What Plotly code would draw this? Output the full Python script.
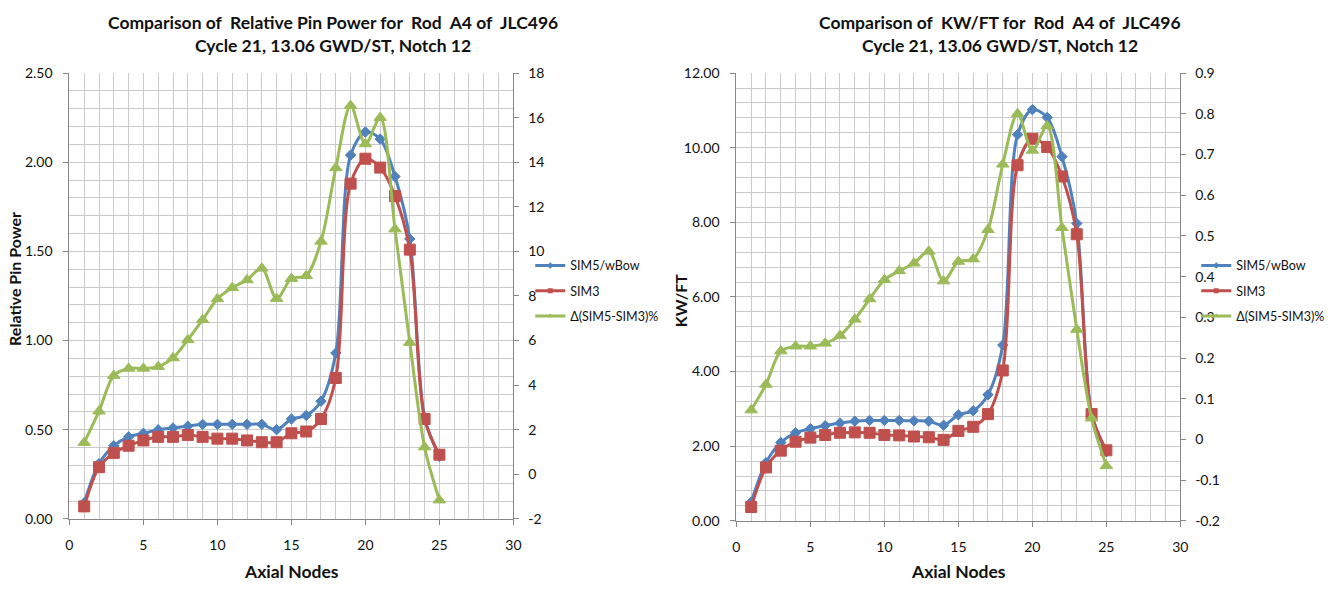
import plotly.graph_objects as go

W, H = 1341, 590

# ---------------- data ----------------
nodes = list(range(1, 26))

# Left chart: Relative Pin Power
sim5_rpp = [0.09, 0.31, 0.41, 0.46, 0.48, 0.50, 0.51, 0.52, 0.53, 0.53, 0.53, 0.53, 0.53,
            0.50, 0.56, 0.58, 0.66, 0.93, 2.04, 2.17, 2.13, 1.92, 1.57, 0.57, 0.35]
sim3_rpp = [0.07, 0.29, 0.37, 0.41, 0.44, 0.46, 0.46, 0.47, 0.46, 0.45, 0.45, 0.44, 0.43,
            0.43, 0.48, 0.49, 0.56, 0.79, 1.88, 2.02, 1.97, 1.81, 1.51, 0.56, 0.36]
delta_rpp = [1.42, 2.83, 4.43, 4.75, 4.75, 4.83, 5.22, 6.03, 6.93, 7.87, 8.37, 8.72, 9.24,
             7.88, 8.78, 8.91, 10.45, 13.75, 16.54, 14.82, 16.00, 11.00, 5.91, 1.22, -1.16]

# Right chart: KW/FT
sim5_kw = [0.50, 1.56, 2.10, 2.36, 2.47, 2.55, 2.62, 2.67, 2.69, 2.69, 2.69, 2.68, 2.67,
           2.56, 2.84, 2.95, 3.38, 4.71, 10.35, 11.02, 10.81, 9.76, 7.97, 2.88, 1.85]
sim3_kw = [0.37, 1.43, 1.88, 2.12, 2.23, 2.30, 2.36, 2.37, 2.36, 2.30, 2.29, 2.26, 2.24,
           2.17, 2.41, 2.52, 2.86, 4.03, 9.53, 10.24, 10.02, 9.23, 7.68, 2.86, 1.89]
delta_kw = [0.072, 0.135, 0.217, 0.229, 0.229, 0.236, 0.255, 0.295, 0.345, 0.392, 0.414,
            0.433, 0.462, 0.389, 0.437, 0.443, 0.515, 0.676, 0.800, 0.710, 0.770, 0.520,
            0.270, 0.052, -0.065]

series_names = ["SIM5/wBow", "SIM3", "\u0394(SIM5-SIM3)%"]

x_ticks = [0, 5, 10, 15, 20, 25, 30]
rpp_ticks = [0.0, 0.5, 1.0, 1.5, 2.0, 2.5]
rpp_ticktext = ["0.00", "0.50", "1.00", "1.50", "2.00", "2.50"]
drpp_ticks = [-2, 0, 2, 4, 6, 8, 10, 12, 14, 16, 18]
drpp_ticktext = ["-2", "0", "2", "4", "6", "8", "10", "12", "14", "16", "18"]
kw_ticks = [0, 2, 4, 6, 8, 10, 12]
kw_ticktext = ["0.00", "2.00", "4.00", "6.00", "8.00", "10.00", "12.00"]
dkw_ticks = [-0.2, -0.1, 0, 0.1, 0.2, 0.3, 0.4, 0.5, 0.6, 0.7, 0.8, 0.9]
dkw_ticktext = ["-0.2", "-0.1", "0", "0.1", "0.2", "0.3", "0.4", "0.5", "0.6", "0.7", "0.8", "0.9"]

title_l1 = "Comparison of\u00a0 Relative Pin Power for\u00a0 Rod\u00a0 A4 of\u00a0 JLC496"
title_r1 = "Comparison of\u00a0 KW/FT for\u00a0 Rod\u00a0 A4 of\u00a0 JLC496"
title_2 = "Cycle 21, 13.06 GWD/ST, Notch 12"

# ---------------- style ----------------
BLUE, RED, GREEN = "#4F81BD", "#C0504D", "#9BBB59"
GRID = "#c9c9c9"
AXIS = "#868686"
FONT = "Lato"
TXT = "#111111"

def px(v):
    return v / W

def py(v):
    return 1 - v / H

fig = go.Figure()

styles = [
    dict(color=BLUE, symbol="diamond", size=8),
    dict(color=RED, symbol="square", size=11),
    dict(color=GREEN, symbol="triangle-up", size=11),
]

def add_chart(xa, ya_main, ya_sec, ys, legend):
    for i, (yv, st) in enumerate(zip(ys, styles)):
        fig.add_trace(go.Scatter(
            x=nodes, y=yv, mode="lines+markers",
            xaxis=xa, yaxis=(ya_sec if i == 2 else ya_main),
            line=dict(color=st["color"], width=3, shape="spline", smoothing=0.9),
            marker=dict(color=st["color"], symbol=st["symbol"], size=st["size"],
                        line=dict(color=st["color"], width=1)),
            name=series_names[i], showlegend=False, hoverinfo="x+y"))
    # legend entries (small markers like the reference)
    for i, st in enumerate(styles):
        fig.add_trace(go.Scatter(
            x=[None], y=[None], mode="lines+markers",
            xaxis=xa, yaxis=(ya_sec if i == 2 else ya_main),
            line=dict(color=st["color"], width=3),
            marker=dict(color=st["color"], symbol=st["symbol"], size=5),
            name=series_names[i], legend=legend, legendgroup=legend + str(i),
            showlegend=True))

add_chart("x", "y", "y2", [sim5_rpp, sim3_rpp, delta_rpp], "legend")
add_chart("x2", "y3", "y4", [sim5_kw, sim3_kw, delta_kw], "legend2")

tickfont = dict(family=FONT, size=14, color=TXT)

def xaxis(domain, anchor):
    return dict(domain=domain, anchor=anchor, range=[0, 30], tickvals=x_ticks,
                showgrid=True, gridcolor=GRID, gridwidth=1,
                minor=dict(dtick=1, showgrid=True, gridcolor=GRID, gridwidth=1, ticks=""),
                showline=True, linecolor=AXIS, linewidth=1, ticks="outside",
                ticklen=5, tickcolor=AXIS, zeroline=False, tickfont=tickfont,
                ticklabelstandoff=8, fixedrange=True)

def yaxis_main(domain, anchor, rng, tv, tt, minor):
    return dict(domain=domain, anchor=anchor, range=rng, tickvals=tv, ticktext=tt,
                showgrid=True, gridcolor=GRID, gridwidth=1,
                minor=dict(dtick=minor, tick0=0, showgrid=True, gridcolor=GRID, gridwidth=1, ticks=""),
                showline=True, linecolor=AXIS, linewidth=1, ticks="outside",
                ticklen=5, tickcolor=AXIS, zeroline=False, tickfont=tickfont,
                ticklabelstandoff=8, fixedrange=True)

def yaxis_sec(overlay, anchor, rng, tv, tt):
    return dict(overlaying=overlay, anchor=anchor, side="right", range=rng,
                tickvals=tv, ticktext=tt, showgrid=False, showline=True,
                linecolor=AXIS, linewidth=1, ticks="outside", ticklen=5,
                tickcolor=AXIS, zeroline=False, tickfont=tickfont,
                ticklabelstandoff=6, fixedrange=True)

legend_font = dict(family=FONT, size=12.5, color=TXT)

fig.update_layout(
    width=W, height=H, margin=dict(l=0, r=0, t=0, b=0),
    paper_bgcolor="white", plot_bgcolor="white",
    font=dict(family=FONT, color=TXT),
    xaxis=xaxis([px(66), px(514)], "y"),
    yaxis=yaxis_main([py(525), py(66)], "x", [0, 2.5], rpp_ticks, rpp_ticktext, 0.1),
    yaxis2=yaxis_sec("y", "x", [-2, 18], drpp_ticks, drpp_ticktext),
    xaxis2=xaxis([px(739), px(1187)], "y3"),
    yaxis3=yaxis_main([py(527), py(66)], "x2", [0, 12], kw_ticks, kw_ticktext, 0.4),
    yaxis4=yaxis_sec("y3", "x2", [-0.2, 0.9], dkw_ticks, dkw_ticktext),
    legend=dict(x=px(531), y=py(249), xanchor="left", yanchor="top",
                bgcolor="rgba(0,0,0,0)", borderwidth=0, tracegroupgap=6,
                font=legend_font, itemwidth=30),
    legend2=dict(x=px(1203), y=py(249), xanchor="left", yanchor="top",
                 bgcolor="rgba(0,0,0,0)", borderwidth=0, tracegroupgap=6,
                 font=legend_font, itemwidth=30),
    showlegend=True,
)

def ann(text, x, y, size, angle=0):
    fig.add_annotation(text="<b>%s</b>" % text,
                       xref="paper", yref="paper", x=px(x), y=py(y),
                       xanchor="center", yanchor="middle", showarrow=False,
                       textangle=angle, font=dict(family=FONT, size=size, color=TXT))

ann(title_l1, 332, 14, 17.5)
ann(title_2, 332, 38, 17.5)
ann(title_r1, 1005, 14, 17.5)
ann(title_2, 1005, 38, 17.5)
ann("Axial Nodes", 290, 579, 17.5)
ann("Axial Nodes", 963, 579, 17.5)
ann("Relative Pin Power", 11, 278, 16, angle=-90)
ann("KW/FT", 682, 300, 16, angle=-90)

fig.write_html("out.html")
